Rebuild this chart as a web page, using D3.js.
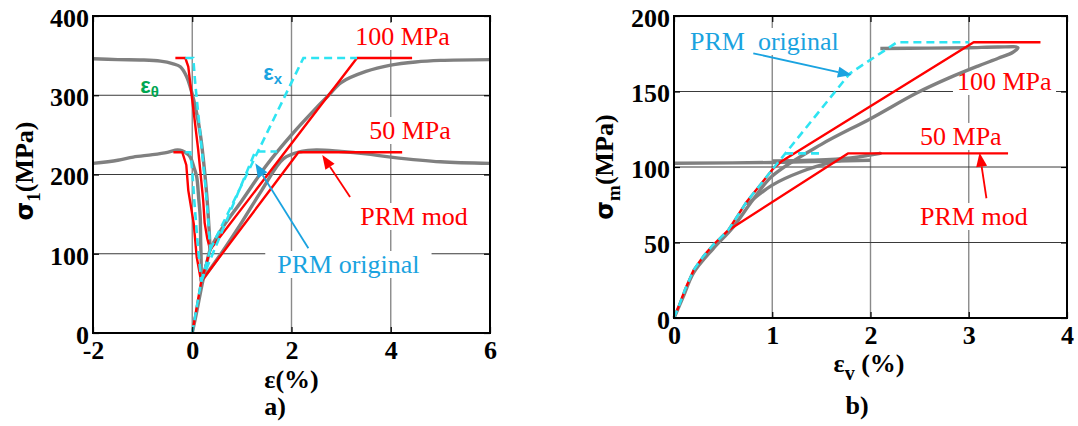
<!DOCTYPE html>
<html><head><meta charset="utf-8">
<script src="https://cdn.jsdelivr.net/npm/d3@7"></script>
<style>body{margin:0;background:#fff;} svg{display:block;}</style>
</head><body>
<svg id="c" width="1078" height="426"></svg>
<script>
// ---------- tick values ----------
const leftXTicks = [-2, 0, 2, 4, 6];
const leftYTicks = [0, 100, 200, 300, 400];
const rightXTicks = [0, 1, 2, 3, 4];
const rightYTicks = [0, 50, 100, 150, 200];

// ---------- panel a) : [strain %, sigma1 MPa] ----------
const grayA100Lateral = [[-2,346],[-1.5,345],[-1,344.5],[-0.64,343],[-0.4,340],[-0.24,336],[-0.11,323],[0.03,294],[0.16,252],[0.26,197],[0.3,168],[0.34,130],[0.36,105]];
const grayA100Axial = [[0,0],[0.1,30],[0.2,62],[0.3,90],[0.36,105],[0.6,132],[1.0,167],[1.5,212],[2.0,250],[2.5,284],[2.75,300],[3.0,316],[3.5,330],[4.0,338],[4.5,342],[5,344],[6,345]];
const grayA50Lateral = [[-2,214],[-1.5,218],[-1.19,222],[-0.8,225],[-0.5,228],[-0.3,231],[-0.2,230],[-0.1,226],[-0.04,222],[0.04,208],[0.09,197],[0.13,170],[0.16,147],[0.17,115],[0.18,90],[0.18,65]];
const grayA50Axial = [[0.18,65],[0.6,102],[1.0,140],[1.4,180],[1.84,220],[2.2,229],[2.5,231],[3.0,229],[3.5,226],[4.0,222],[5.0,216],[6.0,214]];

const redAHydro = [[0,0],[0.18,65],[0.36,105]];
const redA100Lateral = [[-0.34,347],[-0.14,347],[-0.08,336],[0,294],[0.12,231],[0.22,168],[0.25,139],[0.3,120],[0.36,105]];
const redA100Axial = [[0.36,105],[3.32,347],[4.43,347]];
const redA50Lateral = [[-0.38,228],[-0.2,228],[-0.12,212],[-0.08,180],[0.03,138],[0.09,96],[0.18,65]];
const redA50Axial = [[0.18,65],[2.14,228],[4.23,228]];

const cyanAHydro = [[0,0],[0.18,65],[0.36,105]];
const cyanA100Lateral = [[-0.14,347],[0.02,347],[0.06,315],[0.16,252],[0.26,189],[0.32,145],[0.36,105]];
const cyanA100Axial = [[0.36,105],[2.24,347],[3.32,347]];
const cyanA50Lateral = [[-0.14,228],[-0.04,228],[0.0,205],[0.04,168],[0.1,120],[0.18,65]];
const cyanA50Axial = [[0.18,65],[1.27,229],[1.71,229]];

// ---------- panel b) : [volumetric strain %, mean stress MPa] ----------
const grayB100 = [[0,0],[0.1,15],[0.2,30],[0.4,46],[0.6,60],[0.8,78],[1.0,94],[1.5,115],[2.0,132],[2.47,149],[2.8,159],[3.1,167],[3.3,172],[3.45,176],[3.5,179],[3.3,179.5],[3.0,179],[2.6,178.7],[2.1,178.5]];
const grayB50 = [[0.74,75],[1.0,88],[1.3,97],[1.6,103],[2.0,108],[2.1,109],[1.8,106],[1.4,104.5],[1.0,104]];
const grayBFlat = [[0,102.5],[1.0,103],[2.0,104.5]];

const redBMain = [[0,0],[0.05,8],[0.11,18.5],[0.2,31.8],[0.3,41],[0.4,48.5],[0.55,58],[0.74,77],[1.01,99]];
const redB50 = [[0.55,58],[1.77,109],[3.4,109]];
const redB100 = [[1.01,99],[1.1,104],[3.05,182.6],[3.73,182.6]];
const cyanBMain = [[0,0],[0.05,8],[0.11,18.5],[0.2,31.8],[0.3,41],[0.4,48.5],[0.55,58],[0.74,77],[1.01,99]];
const cyanB100 = [[1.01,99],[1.79,162],[2.27,182.6],[3.0,182.6]];
const cyanB50 = [[1.13,109],[1.49,109]];

// ---------- annotations (data coords) ----------
const labelsA = [
  {t:"100 MPa", x:3.285, y:363.4, c:"#ff0000", pad:4},
  {t:"50 MPa", x:3.567, y:244.8, c:"#ff0000", pad:4},
  {t:"PRM mod", x:3.385, y:136.3, c:"#ff0000", pad:4},
  {t:"PRM original", x:1.713, y:75.7, c:"#1aa3e0", pad:12}
];
const labelsB = [
  {t:"PRM\u00a0 original", x:0.163, y:177.5, c:"#1aa3e0", pad:4},
  {t:"100 MPa", x:2.88, y:151, c:"#ff0000", pad:4},
  {t:"50 MPa", x:2.504, y:114.6, c:"#ff0000", pad:4},
  {t:"PRM mod", x:2.504, y:61.6, c:"#ff0000", pad:4}
];
const arrowsA = [
  {from:[3.18,171.6], to:[2.62,224.6], c:"#ff0000"},
  {from:[2.34,106.9], to:[1.27,214.1], c:"#1aa3e0"}
];
const arrowsB = [
  {from:[0.807,175.3], to:[1.81,160.9], c:"#1aa3e0"},
  {from:[3.18,79.3], to:[3.11,109.5], c:"#ff0000"}
];

const svg = d3.select("#c");
svg.append("rect").attr("width",1078).attr("height",426).attr("fill","#fff");

const GRAY = "#808080", RED = "#ff0000", CYAN = "#2ee4f2";
const SERIF = "'Liberation Serif','Times New Roman',serif";

function drawPanel(cfg) {
  const g = svg.append("g");
  const x = d3.scaleLinear().domain([cfg.xTicks[0], cfg.xTicks[cfg.xTicks.length-1]]).range([cfg.x0, cfg.x1]);
  const y = d3.scaleLinear().domain([cfg.yTicks[0], cfg.yTicks[cfg.yTicks.length-1]]).range([cfg.y1, cfg.y0]);

  // grid
  g.selectAll(".vg").data(cfg.xTicks.slice(1,-1)).join("line")
    .attr("x1",d=>x(d)).attr("x2",d=>x(d)).attr("y1",cfg.y0).attr("y2",cfg.y1)
    .attr("stroke","#8a8a8a").attr("stroke-width",1.4);
  g.selectAll(".hg").data(cfg.yTicks.slice(1,-1)).join("line")
    .attr("x1",cfg.x0).attr("x2",cfg.x1).attr("y1",d=>y(d)).attr("y2",d=>y(d))
    .attr("stroke","#3a3a3a").attr("stroke-width",1);

  const bgLayer = g.append("g");
  const dataLayer = g.append("g");
  const textLayer = g.append("g");

  const smooth = d3.line().x(d=>x(d[0])).y(d=>y(d[1])).curve(d3.curveCatmullRom.alpha(0.5));
  const straight = d3.line().x(d=>x(d[0])).y(d=>y(d[1]));

  cfg.gray.forEach(s => dataLayer.append("path").attr("d",smooth(s)).attr("fill","none")
    .attr("stroke",GRAY).attr("stroke-width",3.4).attr("stroke-linejoin","round"));
  cfg.red.forEach(s => dataLayer.append("path").attr("d",straight(s)).attr("fill","none")
    .attr("stroke",RED).attr("stroke-width",2.4).attr("stroke-linejoin","round"));
  cfg.cyan.forEach(s => dataLayer.append("path").attr("d",straight(s)).attr("fill","none")
    .attr("stroke",CYAN).attr("stroke-width",2.6).attr("stroke-dasharray","8,5"));

  // arrows
  cfg.arrows.forEach(a => {
    const x1 = x(a.from[0]), y1 = y(a.from[1]), x2 = x(a.to[0]), y2 = y(a.to[1]);
    const ang = Math.atan2(y2-y1, x2-x1), L = 14, W = 5.5;
    const bx = x2 - L*Math.cos(ang), by = y2 - L*Math.sin(ang);
    dataLayer.append("line").attr("x1",x1).attr("y1",y1).attr("x2",bx).attr("y2",by)
      .attr("stroke",a.c).attr("stroke-width",1.8);
    const px = -Math.sin(ang), py = Math.cos(ang);
    dataLayer.append("path")
      .attr("d",`M${x2},${y2}L${bx+px*W},${by+py*W}L${bx-px*W},${by-py*W}Z`)
      .attr("fill",a.c);
  });

  // labels with white backgrounds
  cfg.labels.forEach(l => {
    const t = textLayer.append("text").attr("x",x(l.x)).attr("y",y(l.y))
      .attr("font-family",SERIF).attr("font-size",26).attr("fill",l.c).text(l.t);
    const b = t.node().getBBox();
    bgLayer.append("rect").attr("x",b.x-l.pad).attr("y",b.y+1).attr("width",b.width+2*l.pad).attr("height",b.height-2)
      .attr("fill","#fff");
  });

  // axes
  const styleAxis = sel => {
    sel.select(".domain").remove();
    sel.selectAll(".tick line").attr("stroke","#000").attr("stroke-width",1.2);
    sel.selectAll("text").attr("font-family",SERIF).attr("font-weight","bold").attr("font-size",26).attr("fill","#000");
  };
  g.append("g").attr("transform",`translate(0,${cfg.y1})`)
    .call(d3.axisBottom(x).tickValues(cfg.xTicks).tickSize(-6).tickPadding(8).tickFormat(d=>String(d))).call(styleAxis);
  g.append("g").attr("transform",`translate(${cfg.x0},0)`)
    .call(d3.axisLeft(y).tickValues(cfg.yTicks).tickSize(-6).tickPadding(4).tickFormat(d=>String(d))).call(styleAxis)
    .selectAll("text").attr("dy","0.40em");
  g.append("g").attr("transform",`translate(0,${cfg.y0})`)
    .call(d3.axisTop(x).tickValues(cfg.xTicks).tickSize(-6).tickFormat("")).call(styleAxis);
  g.append("g").attr("transform",`translate(${cfg.x1},0)`)
    .call(d3.axisRight(y).tickValues(cfg.yTicks).tickSize(-6).tickFormat("")).call(styleAxis);
  g.append("rect").attr("x",cfg.x0).attr("y",cfg.y0).attr("width",cfg.x1-cfg.x0).attr("height",cfg.y1-cfg.y0)
    .attr("fill","none").attr("stroke","#000").attr("stroke-width",2);
  return {g,x,y};
}

const A = drawPanel({
  x0:93, x1:490, y0:16, y1:333, xTicks:leftXTicks, yTicks:leftYTicks,
  gray:[grayA100Lateral, grayA100Axial, grayA50Lateral, grayA50Axial],
  red:[redAHydro, redA100Lateral, redA100Axial, redA50Lateral, redA50Axial],
  cyan:[cyanAHydro, cyanA100Lateral, cyanA100Axial, cyanA50Lateral, cyanA50Axial],
  labels:labelsA, arrows:arrowsA
});
const B = drawPanel({
  x0:674, x1:1067, y0:16, y1:318, xTicks:rightXTicks, yTicks:rightYTicks,
  gray:[grayBFlat, grayB50, grayB100],
  red:[redBMain, redB50, redB100],
  cyan:[cyanBMain, cyanB100, cyanB50],
  labels:labelsB, arrows:arrowsB
});

// strain labels in panel a
const eth = A.g.append("text").attr("x",A.x(-1.048)).attr("y",A.y(302.8))
  .attr("font-family","'Liberation Sans',Arial,sans-serif").attr("font-weight","bold").attr("font-size",22).attr("fill","#00a651");
eth.append("tspan").text("ε");
eth.append("tspan").attr("font-size",15).attr("dy",4).text("θ");
const ex = A.g.append("text").attr("x",A.x(1.43)).attr("y",A.y(319.2))
  .attr("font-family","'Liberation Sans',Arial,sans-serif").attr("font-weight","bold").attr("font-size",22).attr("fill","#1aa3e0");
ex.append("tspan").text("ε");
ex.append("tspan").attr("font-size",15).attr("dy",4).text("x");

// axis titles
function yTitle(cx, cy, sub) {
  const t = svg.append("text").attr("transform",`translate(${cx},${cy}) rotate(-90)`)
    .attr("text-anchor","middle").attr("font-family",SERIF).attr("font-weight","bold").attr("font-size",26);
  t.append("tspan").attr("font-family","'DejaVu Sans',sans-serif").attr("font-size",24).text("σ");
  t.append("tspan").attr("font-size",19).attr("dy",7).text(sub);
  t.append("tspan").attr("dy",-7).text("(MPa)");
}
yTitle(33, 171, "1");
yTitle(613, 167, "m");

svg.append("text").attr("x",291.5).attr("y",388).attr("text-anchor","middle")
  .attr("font-family",SERIF).attr("font-weight","bold").attr("font-size",26).text("ε(%)");
const xtB = svg.append("text").attr("x",869).attr("y",372).attr("text-anchor","middle")
  .attr("font-family",SERIF).attr("font-weight","bold").attr("font-size",26);
xtB.append("tspan").text("ε");
xtB.append("tspan").attr("font-size",20).attr("dy",8).text("v");
xtB.append("tspan").attr("dy",-8).text(" (%)");

svg.append("text").attr("x",275).attr("y",415).attr("text-anchor","middle")
  .attr("font-family",SERIF).attr("font-weight","bold").attr("font-size",26).text("a)");
svg.append("text").attr("x",857).attr("y",414).attr("text-anchor","middle")
  .attr("font-family",SERIF).attr("font-weight","bold").attr("font-size",26).text("b)");
</script>
</body></html>
